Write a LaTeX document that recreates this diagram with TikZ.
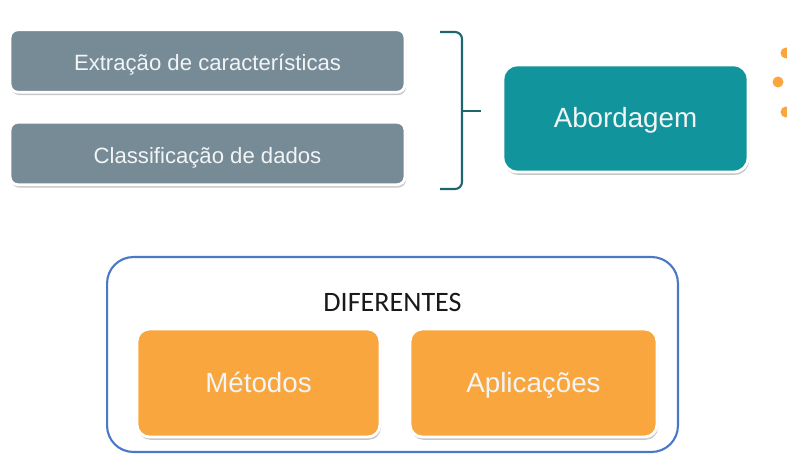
\documentclass[tikz,border=0pt]{standalone}
\usepackage{fontspec}
\setmainfont{Liberation Sans}
\newfontfamily\calibrifont{Carlito}
\usetikzlibrary{shadows}
\definecolor{Slate}{HTML}{778B97}
\definecolor{Teal}{HTML}{12949C}
\definecolor{Orange}{HTML}{F9A63F}
\definecolor{Frame}{HTML}{4B78C6}
\definecolor{BraceTeal}{HTML}{1D6670}
\definecolor{Paper}{HTML}{F2F5F6}

\begin{document}
\begin{tikzpicture}[
    x=0.02cm,y=-0.02cm,
    glow/.style={drop shadow={shadow xshift=0.6pt, shadow yshift=-1.6pt,
      fill=black, opacity=0.22}},
    graybox/.style={draw=white, line width=1.6pt, fill=Slate, glow,
      rounded corners=4.5pt, minimum width=7.9cm, minimum height=1.25cm,
      text height=2.6ex, text depth=0.5ex,
      text=Paper, font=\fontsize{12.6}{15}\selectfont},
    tealbox/.style={draw=white, line width=1.6pt, fill=Teal, glow,
      rounded corners=8pt, minimum width=4.9cm, minimum height=2.14cm,
      text height=2.4ex, text depth=0.45ex,
      text=Paper, font=\fontsize{15.8}{19}\selectfont},
    orangebox/.style={draw=white, line width=1.6pt, fill=Orange, glow,
      rounded corners=7pt, minimum width=4.9cm, minimum height=2.16cm,
      text height=2.4ex, text depth=0.45ex,
      text=Paper, font=\fontsize{15.8}{19}\selectfont},
    frame/.style={draw=Frame, line width=1.2pt, fill=white,
      rounded corners=15pt, minimum width=11.42cm, minimum height=3.9cm},
    bracket/.style={draw=BraceTeal, line width=1.2pt, rounded corners=4pt},
    bullet/.style={fill=Orange, circle, inner sep=0pt, minimum size=0.22cm}
  ]
    \useasboundingbox[fill=white] (0,0) rectangle (787,465);

    \node[graybox] (extracao) at (207.5,61) {Extração de características};
    \node[graybox] (classif) at (207.5,153.5) {Classificação de dados};

    \draw[bracket] (440,32) -| (462,111) |- (440,189);
    \coordinate (bracetip) at (481,111);
    \draw[bracket] (462,111) -- (bracetip);

    \node[tealbox] (abordagem) at (625.5,118.5) {Abordagem};

    \node[bullet] (dotA) at (786,53) {};
    \node[bullet] (dotB) at (778,82) {};
    \node[bullet] (dotC) at (786,112) {};

    \node[frame] (diferentes) at (392.5,354.5) {};
    \node[font=\calibrifont\fontsize{16}{19}\selectfont, text=black!90] (titulo)
      at (392.5,302) {DIFERENTES};
    \node[orangebox, minimum width=4.86cm] (metodos) at (258.5,383) {Métodos};
    \node[orangebox, minimum width=4.94cm] (aplicacoes) at (533.5,383) {Aplicações};
  \end{tikzpicture}
\end{document}
